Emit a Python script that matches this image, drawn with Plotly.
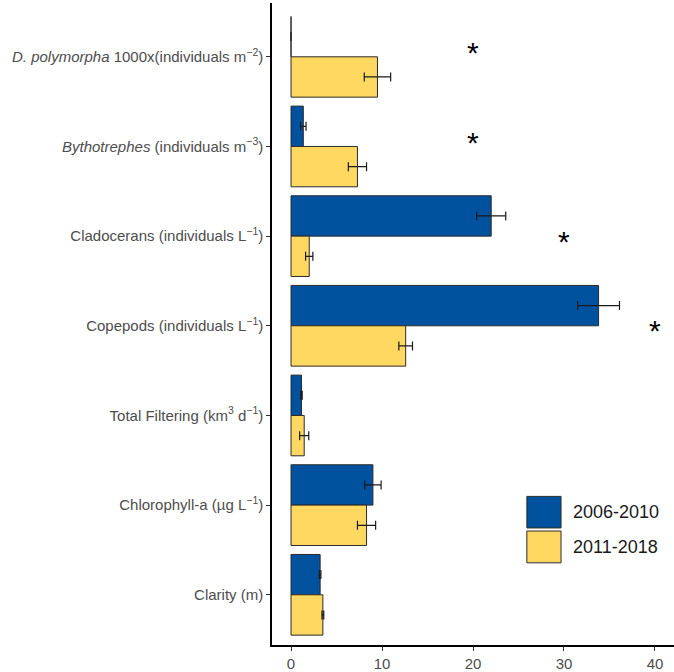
import plotly.graph_objects as go

categories = [
    "<i>D. polymorpha</i> 1000x(individuals m<sup>−2</sup>)",
    "<i>Bythotrephes</i> (individuals m<sup>−3</sup>)",
    "Cladocerans (individuals L<sup>−1</sup>)",
    "Copepods (individuals L<sup>−1</sup>)",
    "Total Filtering (km<sup>3</sup> d<sup>−1</sup>)",
    "Chlorophyll-a (µg L<sup>−1</sup>)",
    "Clarity (m)",
]
period_labels = ["2006-2010", "2011-2018"]
values_2006_2010 = [0.0, 1.35, 22.0, 33.8, 1.15, 9.0, 3.2]
errors_2006_2010 = [None, 0.3, 1.6, 2.3, 0.08, 0.9, 0.08]
values_2011_2018 = [9.5, 7.3, 2.0, 12.6, 1.45, 8.3, 3.5]
errors_2011_2018 = [1.45, 1.0, 0.4, 0.75, 0.5, 1.0, 0.1]

sig_categories = [0, 1, 2, 3]
sig_x = [20, 20, 30, 40]
sig_y_offset = [-0.1, -0.1, 0.0, 0.0]

colors = ["#00519E", "#FFD862"]
y_idx = list(range(len(categories)))

fig = go.Figure()
for name, vals, errs, col in [
    (period_labels[0], values_2006_2010, errors_2006_2010, colors[0]),
    (period_labels[1], values_2011_2018, errors_2011_2018, colors[1]),
]:
    fig.add_trace(go.Bar(
        x=vals, y=y_idx, orientation="h", name=name,
        marker=dict(color=col, line=dict(color="#2b2b2b", width=1)),
        error_x=dict(type="data", array=errs, visible=True, color="#1a1a1a", thickness=1.2, width=4.5),
        showlegend=False,
    ))

for c, sx, off in zip(sig_categories, sig_x, sig_y_offset):
    fig.add_annotation(x=sx, y=c + off, text="*", showarrow=False,
                       font=dict(size=30, color="black", family="Liberation Sans"),
                       xanchor="center", yanchor="middle", yshift=-5)

# custom legend (large keys like the reference)
leg_x0, leg_x1 = 0.634, 0.719
leg_rows = [(0.1823, 0.2315), (0.128, 0.1775)]
for (y0, y1), col, lab in zip(leg_rows, colors, period_labels):
    fig.add_shape(type="rect", xref="paper", yref="paper", x0=leg_x0, x1=leg_x1, y0=y0, y1=y1,
                  fillcolor=col, line=dict(color="#2b2b2b", width=1))
    fig.add_annotation(xref="paper", yref="paper", x=0.744, y=(y0 + y1) / 2, text=lab,
                       showarrow=False, xanchor="left", yanchor="middle",
                       font=dict(size=18, color="#1a1a1a", family="Liberation Sans"))

fig.update_layout(
    width=674, height=672,
    margin=dict(l=272, r=0, t=3, b=21),
    paper_bgcolor="white", plot_bgcolor="white",
    barmode="group", bargap=0.1, bargroupgap=0,
    font=dict(family="Liberation Sans", size=15, color="#4D4D4D"),
)
fig.update_yaxes(
    tickmode="array", tickvals=y_idx, ticktext=categories,
    range=[6.56, -0.6], showgrid=False, zeroline=False,
    showline=True, linecolor="black", linewidth=1.5,
    ticks="outside", ticklen=4, tickcolor="#333333",
    tickfont=dict(size=15, color="#4D4D4D"),
)
fig.update_xaxes(
    range=[-2.09, 42.09], tickvals=[0, 10, 20, 30, 40],
    showgrid=False, zeroline=False,
    showline=True, linecolor="black", linewidth=1.5,
    ticks="outside", ticklen=4, tickcolor="#333333",
    tickfont=dict(size=15, color="#4D4D4D"),
)

fig.write_html(
    "out.html",
    config={"displayModeBar": False},
    post_script="document.body.style.margin='0';document.body.style.overflow='hidden';",
)
